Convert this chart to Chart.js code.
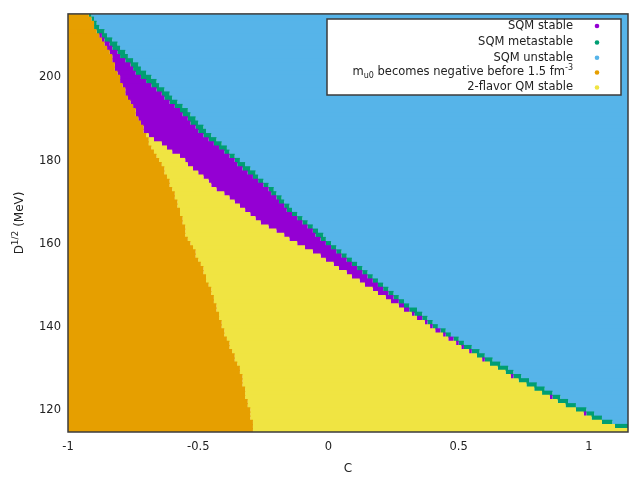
<!DOCTYPE html>
<html><head><meta charset="utf-8">
<script src="https://cdn.jsdelivr.net/npm/chart.js@4"></script>
<style>html,body{margin:0;padding:0;background:#fff}#wrap{width:640px;height:477px}</style>
</head><body><div id="wrap"><canvas id="c" width="640" height="477"></canvas></div>
<script>
// Rows of D^{1/2} (MeV), top to bottom
const dValues = [
 215,214,213,212,211,210,209,208,207,206,
 205,204,203,202,201,200,199,198,197,196,
 195,194,193,192,191,190,189,188,187,186,
 185,184,183,182,181,180,179,178,177,176,
 175,174,173,172,171,170,169,168,167,166,
 165,164,163,162,161,160,159,158,157,156,
 155,154,153,152,151,150,149,148,147,146,
 145,144,143,142,141,140,139,138,137,136,
 135,134,133,132,131,130,129,128,127,126,
 125,124,123,122,121,120,119,118,117,116,
 115];
// C where the orange region (m_u0 negative) ends in each row
const orangeEnd = [
 -0.92,-0.91,-0.90,-0.90,-0.89,-0.88,-0.87,-0.86,-0.85,-0.84,
 -0.83,-0.83,-0.82,-0.82,-0.81,-0.80,-0.80,-0.79,-0.78,-0.78,
 -0.77,-0.76,-0.75,-0.74,-0.74,-0.73,-0.72,-0.71,-0.71,-0.70,
 -0.69,-0.69,-0.68,-0.67,-0.66,-0.65,-0.64,-0.63,-0.63,-0.62,
 -0.61,-0.61,-0.60,-0.59,-0.59,-0.58,-0.58,-0.57,-0.57,-0.56,
 -0.56,-0.55,-0.55,-0.55,-0.54,-0.53,-0.52,-0.51,-0.51,-0.50,
 -0.49,-0.48,-0.48,-0.47,-0.47,-0.46,-0.45,-0.45,-0.44,-0.44,
 -0.43,-0.43,-0.42,-0.42,-0.41,-0.41,-0.40,-0.40,-0.39,-0.38,
 -0.38,-0.37,-0.36,-0.36,-0.35,-0.34,-0.34,-0.33,-0.33,-0.33,
 -0.32,-0.32,-0.32,-0.31,-0.31,-0.30,-0.30,-0.30,-0.29,-0.29,
 -0.29];
// C where the yellow region (2-flavor QM stable) ends
const yellowEnd = [
 -0.92,-0.91,-0.90,-0.90,-0.89,-0.88,-0.87,-0.86,-0.85,-0.84,
 -0.83,-0.83,-0.82,-0.82,-0.81,-0.80,-0.80,-0.79,-0.78,-0.78,
 -0.77,-0.76,-0.75,-0.74,-0.74,-0.73,-0.72,-0.71,-0.71,-0.69,
 -0.67,-0.64,-0.62,-0.60,-0.57,-0.55,-0.54,-0.52,-0.50,-0.48,
 -0.46,-0.45,-0.43,-0.40,-0.38,-0.36,-0.34,-0.32,-0.30,-0.28,
 -0.26,-0.23,-0.20,-0.17,-0.15,-0.12,-0.09,-0.06,-0.03,-0.01,
 0.02,0.04,0.07,0.09,0.12,0.14,0.17,0.19,0.22,0.24,
 0.27,0.29,0.32,0.34,0.37,0.39,0.41,0.44,0.46,0.49,
 0.51,0.54,0.57,0.59,0.62,0.65,0.68,0.70,0.73,0.76,
 0.79,0.82,0.85,0.88,0.91,0.95,0.98,1.01,1.05,1.10,
 1.15];
// C where the purple region (SQM stable) ends
const purpleEnd = [
 -0.92,-0.91,-0.90,-0.90,-0.89,-0.87,-0.86,-0.84,-0.83,-0.81,
 -0.80,-0.78,-0.76,-0.75,-0.74,-0.72,-0.70,-0.68,-0.66,-0.64,
 -0.63,-0.61,-0.59,-0.57,-0.56,-0.54,-0.53,-0.51,-0.50,-0.48,
 -0.46,-0.44,-0.42,-0.40,-0.38,-0.36,-0.35,-0.33,-0.31,-0.29,
 -0.27,-0.25,-0.23,-0.22,-0.20,-0.19,-0.17,-0.16,-0.14,-0.12,
 -0.10,-0.08,-0.06,-0.05,-0.03,-0.01,0.01,0.03,0.05,0.07,
 0.09,0.11,0.13,0.15,0.17,0.19,0.21,0.23,0.25,0.27,
 0.29,0.31,0.33,0.36,0.38,0.40,0.43,0.45,0.48,0.50,
 0.52,0.55,0.57,0.60,0.62,0.65,0.68,0.71,0.73,0.76,
 0.79,0.82,0.86,0.88,0.91,0.95,0.99,1.01,1.05,1.10,
 1.15];
// C where the green region (SQM metastable) ends; blue (SQM unstable) beyond
const greenEnd = [
 -0.91,-0.90,-0.89,-0.88,-0.86,-0.85,-0.83,-0.81,-0.80,-0.78,
 -0.77,-0.75,-0.73,-0.72,-0.70,-0.68,-0.66,-0.65,-0.63,-0.61,
 -0.60,-0.58,-0.56,-0.54,-0.53,-0.51,-0.50,-0.48,-0.47,-0.45,
 -0.43,-0.41,-0.39,-0.38,-0.36,-0.34,-0.32,-0.30,-0.28,-0.27,
 -0.25,-0.23,-0.21,-0.20,-0.18,-0.17,-0.15,-0.14,-0.12,-0.10,
 -0.08,-0.06,-0.04,-0.02,-0.01,0.01,0.03,0.05,0.07,0.09,
 0.11,0.13,0.15,0.17,0.19,0.21,0.23,0.25,0.27,0.29,
 0.31,0.34,0.36,0.38,0.40,0.42,0.45,0.47,0.50,0.52,
 0.55,0.58,0.60,0.63,0.66,0.69,0.71,0.74,0.77,0.80,
 0.83,0.86,0.89,0.92,0.95,0.99,1.02,1.05,1.09,1.15,
 1.15];

const X_MIN = -1.0, X_MAX = 1.15;
const Y_MIN = 114.7, Y_MAX = 215.3;
const xTicks = [-1, -0.5, 0, 0.5, 1];
const yTicks = [120, 140, 160, 180, 200];
const xTitle = 'C';
const yTitle = 'D^{1/2} (MeV)';
const legendLabels = ['SQM stable','SQM metastable','SQM unstable','m_{u0} becomes negative before 1.5 fm^{-3}','2-flavor QM stable'];
const legendColors = ['#9400D3','#009E73','#56B4E9','#E69F00','#F0E442'];

const FONT = '"DejaVu Sans", Verdana, sans-serif';
const TEXT = '#222';

function rows(starts, ends){
  return dValues.map((d,i)=>({y:d, x:[starts[i], ends[i]]}));
}
const leftEdge = dValues.map(()=>X_MIN);
const rightEdge = dValues.map(()=>X_MAX);

function parseRich(s){
  const out=[]; const re=/([_^])\{([^}]*)\}|([^_^]+)/g; let m;
  while((m=re.exec(s))){ if(m[3]) out.push({t:m[3],k:0}); else out.push({t:m[2],k:m[1]==='_'?-1:1}); }
  return out;
}
function drawRich(ctx, s, x, y, align, size){
  const parts=parseRich(s); const small=Math.round(size*0.72);
  let w=0;
  parts.forEach(p=>{ctx.font=(p.k?small:size)+'px '+FONT; p.w=ctx.measureText(p.t).width; w+=p.w;});
  let cx = align==='right' ? x-w : (align==='center' ? x-w/2 : x);
  ctx.textAlign='left'; ctx.textBaseline='middle';
  parts.forEach(p=>{
    ctx.font=(p.k?small:size)+'px '+FONT;
    const dy = p.k===-1 ? size*0.32 : (p.k===1 ? -size*0.36 : 0);
    ctx.fillText(p.t, cx, y+dy); cx+=p.w;
  });
}

const decor = {
  id:'decor',
  afterDatasetsDraw(chart){
    const {ctx, chartArea:a} = chart;
    ctx.save();
    ctx.strokeStyle='#3b3b3b'; ctx.lineWidth=1.5;
    ctx.strokeRect(a.left, a.top, a.right-a.left, a.bottom-a.top);
    ctx.restore();
  },
  afterDraw(chart){
    const {ctx, chartArea:a} = chart;
    ctx.save();
    ctx.fillStyle=TEXT;
    drawRich(ctx, xTitle, (a.left+a.right)/2, 469, 'center', 12);
    ctx.save();
    ctx.translate(20, (a.top+a.bottom)/2);
    ctx.rotate(-Math.PI/2);
    drawRich(ctx, yTitle, 0, 0, 'center', 12);
    ctx.restore();
    const bx=327, by=19, bw=294, bh=76;
    ctx.fillStyle='#fff'; ctx.fillRect(bx,by,bw,bh);
    ctx.strokeStyle='#3b3b3b'; ctx.lineWidth=1.5; ctx.strokeRect(bx,by,bw,bh);
    const rowY=[26,42.5,57.7,72.5,87.5];
    legendLabels.forEach((lab,i)=>{
      ctx.fillStyle=TEXT;
      drawRich(ctx, lab, 573, rowY[i], 'right', 11.5);
      ctx.fillStyle=legendColors[i];
      ctx.beginPath(); ctx.arc(597, rowY[i], 2.3, 0, Math.PI*2); ctx.fill();
    });
    ctx.restore();
  }
};

const ds = (label, color, s, e) => ({label, data: rows(s, e), backgroundColor: color, borderWidth: 0, inflateAmount: 0});

new Chart(document.getElementById('c'), {
  type:'bar',
  data:{datasets:[
    ds(legendLabels[3], legendColors[3], leftEdge, orangeEnd),
    ds(legendLabels[4], legendColors[4], orangeEnd, yellowEnd),
    ds(legendLabels[0], legendColors[0], yellowEnd, purpleEnd),
    ds(legendLabels[1], legendColors[1], purpleEnd, greenEnd),
    ds(legendLabels[2], legendColors[2], greenEnd, rightEdge)
  ]},
  options:{
    indexAxis:'y', responsive:false, animation:false,
    datasets:{bar:{grouped:false, barPercentage:1.3, categoryPercentage:1}},
    layout:{padding:{top:13, right:12, left:0, bottom:0}},
    plugins:{legend:{display:false}, tooltip:{enabled:false}},
    scales:{
      x:{type:'linear', min:X_MIN, max:X_MAX, offset:false,
        grid:{display:false, drawTicks:false}, border:{display:false},
        ticks:{padding:8, color:TEXT, font:{family:FONT, size:11.5}, callback:v=>String(v), maxRotation:0},
        afterBuildTicks:s=>{s.ticks = xTicks.map(v=>({value:v}));},
        afterFit:s=>{s.height=45;}},
      y:{type:'linear', min:Y_MIN, max:Y_MAX, offset:false,
        grid:{display:false, drawTicks:false, offset:false}, border:{display:false},
        ticks:{padding:7, color:TEXT, font:{family:FONT, size:11.5}, callback:v=>String(v)},
        afterBuildTicks:s=>{s.ticks = yTicks.map(v=>({value:v}));},
        afterFit:s=>{s.width=68;}}
    }
  },
  plugins:[decor]
});
</script></body></html>
